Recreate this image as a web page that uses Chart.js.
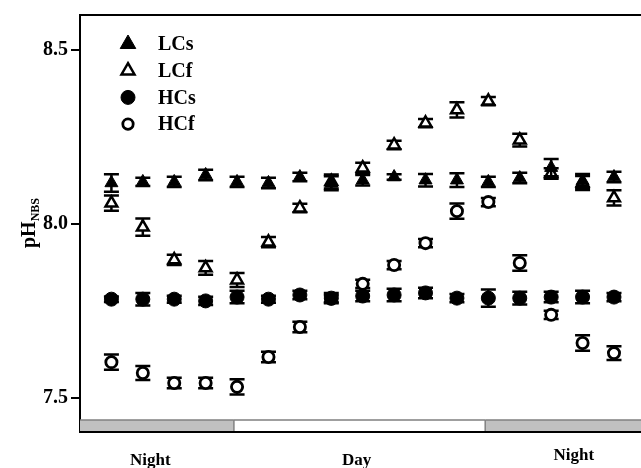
<!DOCTYPE html>
<html>
<head>
<meta charset="utf-8">
<script src="https://cdn.jsdelivr.net/npm/chart.js@4"></script>
<style>
  html, body { margin: 0; padding: 0; background: #fff; }
  #wrap { width: 641px; height: 468px; }
</style>
</head>
<body>
<div id="wrap"><canvas id="phChart" width="641" height="468"></canvas></div>
<script>
// sampling times (unlabelled on the x axis)
const samples = [1, 2, 3, 4, 5, 6, 7, 8, 9, 10, 11, 12, 13, 14, 15, 16, 17];

// pH (NBS) per treatment
const lcsValues = [8.118, 8.121, 8.121, 8.141, 8.121, 8.118, 8.135, 8.117, 8.126, 8.135, 8.126, 8.126, 8.121, 8.132, 8.162, 8.124, 8.135];
const lcfValues = [8.060, 7.991, 7.897, 7.874, 7.839, 7.948, 8.046, 8.122, 8.161, 8.227, 8.290, 8.328, 8.353, 8.241, 8.145, 8.118, 8.075];
const hcsValues = [7.784, 7.784, 7.784, 7.779, 7.790, 7.784, 7.796, 7.787, 7.793, 7.796, 7.802, 7.787, 7.787, 7.787, 7.790, 7.790, 7.790];
const hcfValues = [7.603, 7.572, 7.543, 7.543, 7.532, 7.618, 7.704, 7.785, 7.828, 7.882, 7.945, 8.037, 8.063, 7.888, 7.739, 7.658, 7.629];

// error bar half-widths
const lcsErr = [0.025, 0.012, 0.015, 0.015, 0.015, 0.015, 0.012, 0.020, 0.015, 0.008, 0.018, 0.020, 0.015, 0.015, 0.025, 0.020, 0.015];
const lcfErr = [0.022, 0.025, 0.015, 0.020, 0.020, 0.015, 0.012, 0.020, 0.015, 0.012, 0.012, 0.022, 0.012, 0.018, 0.015, 0.020, 0.022];
const hcsErr = [0.008, 0.018, 0.010, 0.012, 0.018, 0.010, 0.012, 0.015, 0.015, 0.018, 0.015, 0.012, 0.025, 0.018, 0.015, 0.018, 0.012];
const hcfErr = [0.022, 0.020, 0.015, 0.015, 0.022, 0.015, 0.015, 0.010, 0.012, 0.012, 0.012, 0.022, 0.012, 0.022, 0.012, 0.022, 0.020];

const yTicks = [7.5, 8.0, 8.5];

// light regime strip under the plot
const periods = ['Night', 'Day', 'Night'];
const periodEdges = [0, 4.9, 12.9, 17.86];
const periodShade = ['#c0c0c0', '#ffffff', '#c0c0c0'];
const periodLabelX = [2.24, 8.81, 15.72];

const FONT = 'Liberation Serif, Times New Roman, serif';

const toPoints = (vals) => samples.map((s, i) => ({ x: s, y: vals[i] }));

const series = [
  { label: 'LCs', values: lcsValues, err: lcsErr, style: 'triangle', radius: 7.5, fill: '#000', bw: 1 },
  { label: 'LCf', values: lcfValues, err: lcfErr, style: 'triangle', radius: 6.8, fill: '#fff', bw: 2.5 },
  { label: 'HCs', values: hcsValues, err: hcsErr, style: 'circle', radius: 7, fill: '#000', bw: 1 },
  { label: 'HCf', values: hcfValues, err: hcfErr, style: 'circle', radius: 5.6, fill: '#fff', bw: 2.8 }
];

// error bars drawn right before each dataset's markers
const errorBars = {
  id: 'errorBars',
  beforeDatasetDraw(chart, args) {
    const s = series[args.index];
    const yScale = chart.scales.y;
    const ctx = chart.ctx;
    ctx.save();
    ctx.strokeStyle = '#000';
    ctx.lineWidth = 2.5;
    args.meta.data.forEach((pt, i) => {
      const top = yScale.getPixelForValue(s.values[i] + s.err[i]);
      const bot = yScale.getPixelForValue(s.values[i] - s.err[i]);
      ctx.beginPath();
      ctx.moveTo(pt.x, top); ctx.lineTo(pt.x, bot);
      ctx.moveTo(pt.x - 7.5, top); ctx.lineTo(pt.x + 7.5, top);
      ctx.moveTo(pt.x - 7.5, bot); ctx.lineTo(pt.x + 7.5, bot);
      ctx.stroke();
    });
    ctx.restore();
  }
};

// frame, day/night strip, labels, legend and axis title
const decorations = {
  id: 'decorations',
  beforeDatasetsDraw(chart) {
    const { ctx, chartArea } = chart;
    const xScale = chart.scales.x;
    ctx.save();
    // top frame line
    ctx.strokeStyle = '#000';
    ctx.lineWidth = 2;
    ctx.beginPath();
    ctx.moveTo(chartArea.left, chartArea.top);
    ctx.lineTo(chartArea.right, chartArea.top);
    ctx.stroke();

    // strip
    const stripTop = chartArea.bottom - 12;
    for (let i = 0; i < periods.length; i++) {
      const x0 = Math.max(chartArea.left, xScale.getPixelForValue(periodEdges[i]));
      const x1 = Math.min(chartArea.right, xScale.getPixelForValue(periodEdges[i + 1]));
      ctx.fillStyle = periodShade[i];
      ctx.fillRect(x0, stripTop, x1 - x0, chartArea.bottom - stripTop);
      ctx.strokeStyle = '#808080';
      ctx.lineWidth = 1.5;
      ctx.beginPath();
      ctx.moveTo(x0, stripTop); ctx.lineTo(x1, stripTop);
      if (i > 0) { ctx.moveTo(x0, stripTop); ctx.lineTo(x0, chartArea.bottom); }
      ctx.stroke();
    }
    ctx.strokeStyle = '#000';
    ctx.lineWidth = 2;
    ctx.beginPath();
    ctx.moveTo(chartArea.left, chartArea.bottom);
    ctx.lineTo(chartArea.right, chartArea.bottom);
    ctx.stroke();

    // period labels
    const labelDy = [29, 29, 24];
    ctx.fillStyle = '#000';
    ctx.font = 'bold 17px ' + FONT;
    ctx.textAlign = 'center';
    ctx.textBaseline = 'middle';
    periods.forEach((p, i) => {
      ctx.fillText(p, xScale.getPixelForValue(periodLabelX[i]), chartArea.bottom + labelDy[i]);
    });

    // y axis title pH_NBS
    ctx.save();
    ctx.translate(35, 223);
    ctx.rotate(-Math.PI / 2);
    ctx.textAlign = 'left';
    ctx.textBaseline = 'alphabetic';
    ctx.font = 'bold 20px ' + FONT;
    const w1 = ctx.measureText('pH').width;
    ctx.font = 'bold 12px ' + FONT;
    const w2 = ctx.measureText('NBS').width;
    const start = -(w1 + w2) / 2;
    ctx.font = 'bold 20px ' + FONT;
    ctx.fillText('pH', start, 0);
    ctx.font = 'bold 12px ' + FONT;
    ctx.fillText('NBS', start + w1, 4);
    ctx.restore();

    // legend
    series.forEach((s, i) => {
      const cx = chartArea.left + 48;
      const cy = chartArea.top + 29 + i * 26.7;
      ctx.fillStyle = s.fill;
      ctx.strokeStyle = '#000';
      ctx.lineWidth = s.bw;
      ctx.beginPath();
      if (s.style === 'triangle') {
        const r = s.fill === '#000' ? 9 : 7.5;
        ctx.moveTo(cx, cy - r);
        ctx.lineTo(cx + r * 0.866, cy + r * 0.5);
        ctx.lineTo(cx - r * 0.866, cy + r * 0.5);
        ctx.closePath();
      } else {
        ctx.arc(cx, cy, s.fill === '#000' ? 7 : 5.2, 0, Math.PI * 2);
      }
      ctx.fill();
      ctx.stroke();
      ctx.fillStyle = '#000';
      ctx.font = 'bold 20px ' + FONT;
      ctx.textAlign = 'left';
      ctx.textBaseline = 'middle';
      ctx.fillText(s.label, chartArea.left + 78, cy + 1);
    });
    ctx.restore();
  }
};

new Chart(document.getElementById('phChart'), {
  type: 'scatter',
  data: {
    datasets: series.map((s) => ({
      label: s.label,
      data: toPoints(s.values),
      pointStyle: s.style,
      pointRadius: s.radius,
      pointBackgroundColor: s.fill,
      pointBorderColor: '#000',
      pointBorderWidth: s.bw,
      showLine: false
    }))
  },
  options: {
    responsive: false,
    animation: false,
    events: [],
    devicePixelRatio: 1,
    layout: { autoPadding: false, padding: { top: 15, bottom: 36, left: 0, right: 0 } },
    plugins: { legend: { display: false }, tooltip: { enabled: false } },
    scales: {
      x: { type: 'linear', min: 0, max: 17.86, display: false },
      y: {
        min: 7.4023,
        max: 8.6006,
        afterBuildTicks: (scale) => { scale.ticks = yTicks.map((v) => ({ value: v })); },
        afterFit: (scale) => { scale.width = 80; },
        ticks: {
          color: '#000',
          padding: 3,
          font: { family: FONT, size: 20, weight: 'bold' },
          callback: (v) => v.toFixed(1)
        },
        grid: { drawOnChartArea: false, drawTicks: true, tickLength: 9, color: '#000', lineWidth: 2 },
        border: { display: true, color: '#000', width: 2 }
      }
    }
  },
  plugins: [errorBars, decorations]
});
</script>
</body>
</html>
